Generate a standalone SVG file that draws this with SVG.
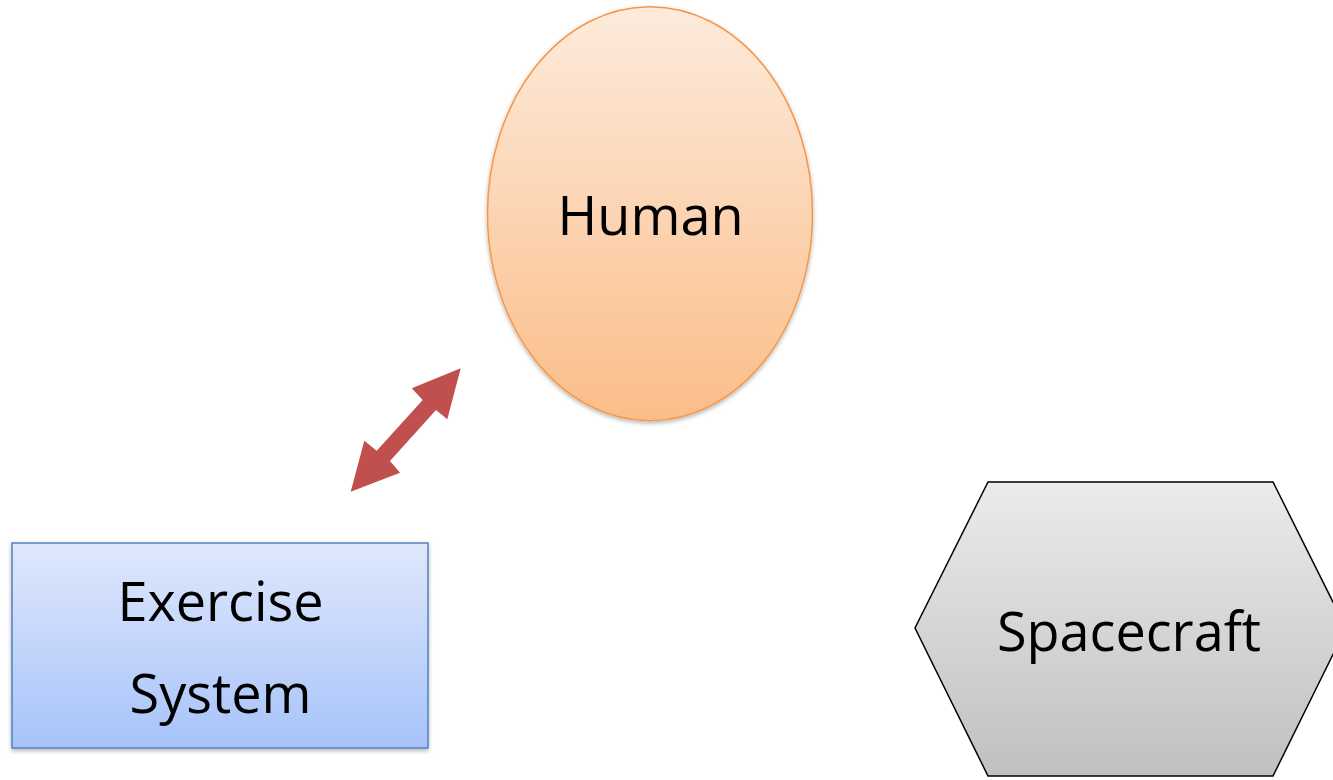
<svg xmlns="http://www.w3.org/2000/svg" width="1333" height="780" viewBox="0 0 1333 780">
  <defs>
    <linearGradient id="gHuman" x1="0" y1="0" x2="0" y2="1">
      <stop offset="0" stop-color="#FDEBDC"/>
      <stop offset="1" stop-color="#FBBD89"/>
    </linearGradient>
    <linearGradient id="gEx" x1="0" y1="0" x2="0" y2="1">
      <stop offset="0" stop-color="#DFE8FC"/>
      <stop offset="1" stop-color="#A6C3F9"/>
    </linearGradient>
    <linearGradient id="gSc" x1="0" y1="0" x2="0" y2="1">
      <stop offset="0" stop-color="#EBEBEB"/>
      <stop offset="1" stop-color="#C0C0C0"/>
    </linearGradient>
    <filter id="sh" x="-10%" y="-10%" width="120%" height="120%">
      <feDropShadow dx="0" dy="2" stdDeviation="2" flood-color="#000" flood-opacity="0.3"/>
    </filter>
  </defs>
  <style>
    .lbl { font-family: "Open Sans", "Liberation Sans", sans-serif; font-size: 54px; fill: #000; text-anchor: middle; }
  </style>
  <rect width="1333" height="780" fill="#fff"/>

  <g id="connectors">
    <polygon fill="#C0504D" points="460.7,368.3 447.3,419.3 436,410 390,461 400,472.7 350.7,491.7 364.3,440.7 376.7,450.7 422.7,400 411.7,388.3"/>
  </g>

  <g id="human">
    <ellipse cx="650" cy="213.7" rx="162.5" ry="207" fill="url(#gHuman)" stroke="#F79646" stroke-width="1.5" filter="url(#sh)"/>
    <text class="lbl" x="650.5" y="235">Human</text>
  </g>

  <g id="exercise-system">
    <rect x="12" y="543" width="416" height="205" fill="url(#gEx)" stroke="#4F81BD" stroke-width="1.5" filter="url(#sh)"/>
    <text class="lbl" x="220.5" y="621">Exercise</text>
    <text class="lbl" x="220.5" y="713">System</text>
  </g>

  <g id="spacecraft">
    <polygon points="988,482 1273,482 1346,628 1273,776 988,776 915,628" fill="url(#gSc)" stroke="#000" stroke-width="1.5"/>
    <text class="lbl" x="1129" y="651">Spacecraft</text>
  </g>
</svg>
